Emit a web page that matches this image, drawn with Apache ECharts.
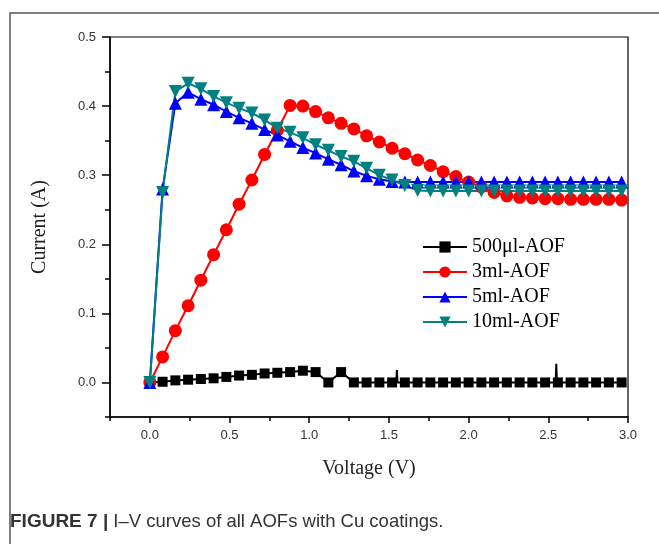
<!DOCTYPE html>
<html>
<head>
<meta charset="utf-8">
<script src="https://cdn.jsdelivr.net/npm/echarts@6/dist/echarts.min.js"></script>
<style>
  html, body { margin: 0; padding: 0; background: #fff; }
  #chart { width: 659px; height: 544px; }
</style>
</head>
<body>
<div id="chart"></div>
<script>
  var volts = [0, 0.08, 0.16, 0.24, 0.32, 0.40, 0.48, 0.56, 0.64, 0.72,
    0.80, 0.88, 0.96, 1.04, 1.12, 1.20, 1.28, 1.36, 1.44, 1.52,
    1.60, 1.68, 1.76, 1.84, 1.92, 2.00, 2.08, 2.16, 2.24, 2.32,
    2.40, 2.48, 2.56, 2.64, 2.72, 2.80, 2.88, 2.96];

  var aof500ul = [0, 0.001, 0.003, 0.004, 0.005, 0.006, 0.008, 0.010, 0.011, 0.013,
    0.014, 0.015, 0.017, 0.015, 0.000, 0.015, 0, 0, 0, 0,
    0, 0, 0, 0, 0, 0, 0, 0, 0, 0,
    0, 0, 0, 0, 0, 0, 0, 0];
  // thin spikes in the 500µl trace (no marker)
  var spikes500ul = [[1.55, 0.018], [2.55, 0.027]];

  var aof3ml = [0, 0.037, 0.075, 0.111, 0.148, 0.185, 0.221, 0.258, 0.293, 0.330,
    0.365, 0.401, 0.400, 0.392, 0.383, 0.375, 0.367, 0.357, 0.348, 0.339,
    0.331, 0.322, 0.314, 0.305, 0.298, 0.290, 0.283, 0.275, 0.270, 0.268,
    0.267, 0.266, 0.266, 0.265, 0.265, 0.265, 0.265, 0.264];

  var aof5ml = [0, 0.280, 0.404, 0.420, 0.410, 0.402, 0.392, 0.383, 0.375, 0.366,
    0.358, 0.349, 0.340, 0.332, 0.323, 0.315, 0.306, 0.299, 0.294, 0.291,
    0.290, 0.290, 0.290, 0.290, 0.290, 0.290, 0.290, 0.290, 0.290, 0.290,
    0.290, 0.290, 0.290, 0.290, 0.290, 0.290, 0.290, 0.290];

  var aof10ml = [0, 0.275, 0.421, 0.433, 0.425, 0.414, 0.405, 0.397, 0.390, 0.380,
    0.368, 0.362, 0.354, 0.344, 0.336, 0.327, 0.320, 0.310, 0.300, 0.293,
    0.285, 0.278, 0.277, 0.277, 0.277, 0.277, 0.277, 0.277, 0.277, 0.277,
    0.277, 0.277, 0.277, 0.277, 0.277, 0.277, 0.277, 0.277];

  var seriesNames = ["500μl-AOF", "3ml-AOF", "5ml-AOF", "10ml-AOF"];
  var xMajor = [0, 0.5, 1.0, 1.5, 2.0, 2.5, 3.0];
  var xMinor = [-0.25, 0.25, 0.75, 1.25, 1.75, 2.25, 2.75];
  var yMajor = [0, 0.1, 0.2, 0.3, 0.4, 0.5];
  var yMinor = [-0.05, 0.05, 0.15, 0.25, 0.35, 0.45];

  function pairs(ys) {
    return volts.map(function(v, i) { return [v, ys[i]]; });
  }

  // 500µl trace with its thin spikes added as marker-less points
  var data500 = pairs(aof500ul);
  spikes500ul.forEach(function(s) {
    data500.push({ value: [s[0] - 0.004, 0], symbol: "none" });
    data500.push({ value: s, symbol: "none" });
    data500.push({ value: [s[0] + 0.004, 0], symbol: "none" });
  });
  data500.sort(function(a, b) {
    var xa = Array.isArray(a) ? a[0] : a.value[0];
    var xb = Array.isArray(b) ? b[0] : b.value[0];
    return xa - xb;
  });

  var serif = "'Liberation Serif', 'DejaVu Serif', serif";
  var sans = "'Liberation Sans', Arial, sans-serif";

  var myChart = echarts.init(document.getElementById("chart"));
  var option = {
    animation: false,
    backgroundColor: "#fff",
    grid: {
      left: 110, top: 37, right: 31, bottom: 127,
      show: true, borderColor: "#000", borderWidth: 1.2
    },
    legend: {
      orient: "vertical",
      left: 417,
      top: 232,
      itemWidth: 44,
      itemHeight: 14,
      itemGap: 5,
      data: seriesNames,
      textStyle: { fontFamily: serif, fontSize: 20, color: "#000" }
    },
    xAxis: [
      {
        type: "value",
        min: -0.25,
        max: 3.0,
        interval: 0.25,
        name: "Voltage (V)",
        nameLocation: "middle",
        nameGap: 42,
        nameTextStyle: { fontFamily: serif, fontSize: 20, color: "#222" },
        axisLine: { onZero: false, lineStyle: { color: "#000", width: 1.5 } },
        axisTick: { customValues: xMajor, length: 6, lineStyle: { color: "#000", width: 1.5 } },
        axisLabel: {
          customValues: xMajor,
          margin: 12,
          fontFamily: sans, fontSize: 13, color: "#333",
          formatter: function(v) { return v.toFixed(1); }
        },
        splitLine: { show: false }
      },
      {
        type: "value",
        position: "bottom",
        min: -0.25,
        max: 3.0,
        interval: 0.25,
        axisLine: { show: false, onZero: false },
        axisTick: { customValues: xMinor, length: 4, lineStyle: { color: "#000", width: 1.5 } },
        axisLabel: { show: false },
        splitLine: { show: false }
      }
    ],
    yAxis: [
      {
        type: "value",
        min: -0.05,
        max: 0.5,
        interval: 0.05,
        name: "Current (A)",
        nameLocation: "middle",
        nameGap: 60,
        nameTextStyle: { fontFamily: serif, fontSize: 20, color: "#222" },
        axisLine: { onZero: false, lineStyle: { color: "#000", width: 1.5 } },
        axisTick: { customValues: yMajor, length: 8, lineStyle: { color: "#000", width: 1.5 } },
        axisLabel: {
          customValues: yMajor,
          margin: 14,
          fontFamily: sans, fontSize: 13, color: "#333",
          formatter: function(v) { return v.toFixed(1); }
        },
        splitLine: { show: false }
      },
      {
        type: "value",
        position: "left",
        min: -0.05,
        max: 0.5,
        interval: 0.05,
        axisLine: { show: false, onZero: false },
        axisTick: { customValues: yMinor, length: 5, lineStyle: { color: "#000", width: 1.5 } },
        axisLabel: { show: false },
        splitLine: { show: false }
      }
    ],
    graphic: [
      {
        type: "polyline",
        shape: { points: [[10, 544], [10, 13], [659, 13]] },
        style: { stroke: "#555", lineWidth: 1.5, fill: null }
      },
      {
        type: "text",
        left: 10,
        top: 512,
        style: {
          text: "{b|FIGURE 7 |} I–V curves of all AOFs with Cu coatings.",
          fontFamily: sans,
          fontSize: 18.5,
          fill: "#333",
          rich: {
            b: { fontFamily: sans, fontSize: 19, fontWeight: "bold", fill: "#333" }
          }
        }
      }
    ],
    series: [
      {
        name: seriesNames[0],
        type: "line",
        data: data500,
        symbol: "rect",
        symbolSize: 10,
        color: "#000",
        lineStyle: { width: 2, color: "#000" },
        itemStyle: { color: "#000" }
      },
      {
        name: seriesNames[1],
        type: "line",
        data: pairs(aof3ml),
        symbol: "circle",
        symbolSize: 13,
        color: "#ff0000",
        lineStyle: { width: 2, color: "#ff0000" },
        itemStyle: { color: "#ff0000" }
      },
      {
        name: seriesNames[2],
        type: "line",
        data: pairs(aof5ml),
        symbol: "triangle",
        symbolSize: 13,
        color: "#0000ff",
        lineStyle: { width: 2, color: "#0000ff" },
        itemStyle: { color: "#0000ff" }
      },
      {
        name: seriesNames[3],
        type: "line",
        data: pairs(aof10ml),
        symbol: "triangle",
        symbolRotate: 180,
        symbolSize: 13,
        color: "#008080",
        lineStyle: { width: 2, color: "#008080" },
        itemStyle: { color: "#008080" }
      }
    ]
  };
  myChart.setOption(option);
  window.addEventListener("resize", function() {
    myChart.resize();
  });
</script>
</body>
</html>
